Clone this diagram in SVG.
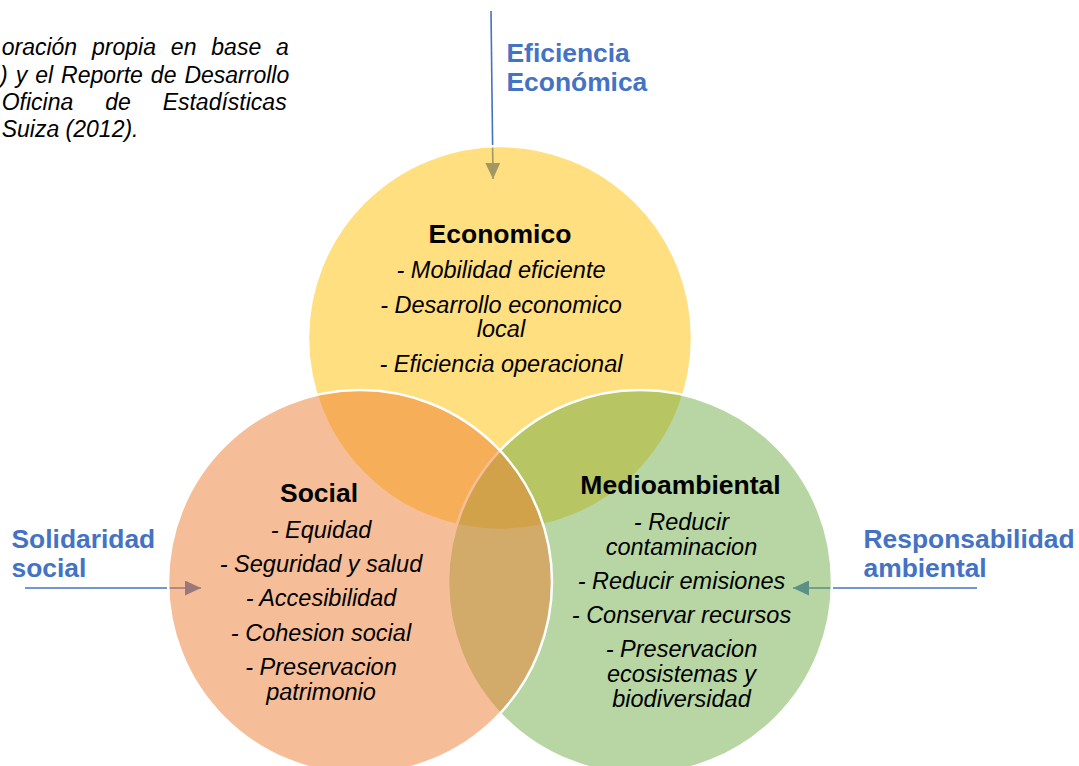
<svg xmlns="http://www.w3.org/2000/svg" width="1079" height="766" viewBox="0 0 1079 766">
  <style>
    .ring { stroke: #FFFFFF; stroke-width: 2.5; fill-opacity: 0.5; }
    .title { font-family: "Liberation Sans", Arial, sans-serif; font-weight: bold; font-size: 26.5px; fill: #000000; text-anchor: middle; }
    .item { font-family: "Liberation Sans", Arial, sans-serif; font-style: italic; font-size: 23.5px; fill: #000000; text-anchor: middle; }
    .label { font-family: "Liberation Sans", Arial, sans-serif; font-weight: bold; font-size: 26.4px; fill: #4472C4; }
    .note { font-family: "Liberation Sans", Arial, sans-serif; font-style: italic; font-size: 23px; fill: #000000; }
    .link { stroke: #4472C4; stroke-width: 1.6; fill: none; }
  </style>
  <defs>
    <marker id="arrow" viewBox="0 0 16 15" refX="16" refY="7.5" markerWidth="16" markerHeight="15" markerUnits="userSpaceOnUse" orient="auto">
      <path d="M0,0 L16,7.5 L0,15 Z" fill="#4472C4"/>
    </marker>
  </defs>

  <rect width="1079" height="766" fill="#FFFFFF"/>

  <!-- source note, justified block -->
  <g id="note">
    <text class="note" x="1.7" y="55" word-spacing="8.5">oración propia en base a</text>
    <text class="note" x="0" y="83" word-spacing="1.6">) y el Reporte de Desarrollo</text>
    <text class="note" x="1.7" y="110" word-spacing="25.5">Oficina de Estadísticas</text>
    <text class="note" x="1.7" y="137">Suiza (2012).</text>
  </g>

  <!-- arrows pointing into the circles (drawn beneath them) -->
  <g id="connectors">
    <line class="link" x1="491" y1="11" x2="493" y2="179" marker-end="url(#arrow)"/>
    <line class="link" x1="25" y1="588" x2="201" y2="588" marker-end="url(#arrow)"/>
    <line class="link" x1="977" y1="588" x2="793" y2="588" marker-end="url(#arrow)"/>
  </g>

  <!-- outside labels -->
  <g id="label-economica">
    <text class="label" x="506.5" y="61.5">Eficiencia</text>
    <text class="label" x="506.5" y="90.5">Económica</text>
  </g>
  <g id="label-social">
    <text class="label" x="11.5" y="547.5">Solidaridad</text>
    <text class="label" x="11.5" y="577">social</text>
  </g>
  <g id="label-ambiental">
    <text class="label" x="863.5" y="547.5">Responsabilidad</text>
    <text class="label" x="863.5" y="577">ambiental</text>
  </g>

  <!-- economic circle -->
  <g id="economico">
    <circle class="ring" cx="500" cy="338" r="192" fill="#FFC000"/>
    <text class="title" x="500" y="242.5">Economico</text>
    <text class="item" x="501" y="278">- Mobilidad eficiente</text>
    <text class="item" x="501" y="313">- Desarrollo economico</text>
    <text class="item" x="501" y="337">local</text>
    <text class="item" x="501" y="371.5">- Eficiencia operacional</text>
  </g>

  <!-- environmental circle -->
  <g id="medioambiental">
    <circle class="ring" cx="640" cy="582" r="192" fill="#70AD47"/>
    <text class="title" x="680.5" y="493.5">Medioambiental</text>
    <text class="item" x="681.5" y="530">- Reducir</text>
    <text class="item" x="681.5" y="555">contaminacion</text>
    <text class="item" x="681.5" y="589">- Reducir emisiones</text>
    <text class="item" x="681.5" y="623">- Conservar recursos</text>
    <text class="item" x="681.5" y="657">- Preservacion</text>
    <text class="item" x="681.5" y="682">ecosistemas y</text>
    <text class="item" x="681.5" y="707">biodiversidad</text>
  </g>

  <!-- social circle -->
  <g id="social">
    <circle class="ring" cx="360" cy="582" r="192" fill="#ED7D31"/>
    <text class="title" x="319" y="502">Social</text>
    <text class="item" x="321" y="538">- Equidad</text>
    <text class="item" x="321" y="572">- Seguridad y salud</text>
    <text class="item" x="321" y="606">- Accesibilidad</text>
    <text class="item" x="321" y="641">- Cohesion social</text>
    <text class="item" x="321" y="675">- Preservacion</text>
    <text class="item" x="321" y="699.5">patrimonio</text>
  </g>
</svg>
